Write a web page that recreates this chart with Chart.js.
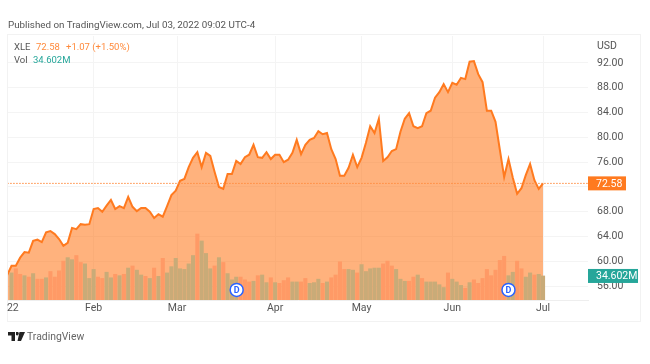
<!DOCTYPE html>
<html>
<head>
<meta charset="utf-8">
<style>
  html, body { margin: 0; padding: 0; background: #fff; }
  body { width: 650px; height: 364px; position: relative; overflow: hidden; font-family: Roboto, sans-serif; }
  #myChart { position: absolute; left: 0; top: 0; }
  .txt { position: absolute; white-space: nowrap; font-size: 9.5px; line-height: 12px; color: #555; }
  #frame { position: absolute; left: 7px; top: 34px; width: 634px; height: 288px; border: 1.5px solid #f2f2f2; box-sizing: border-box; }
</style>
</head>
<body>
<div id="frame"></div>
<canvas id="myChart" width="650" height="364"></canvas>
<div class="txt" style="left:8px;top:19px;font-size:9.8px">Published on TradingView.com, Jul 03, 2022 09:02 UTC-4</div>
<div class="txt" style="left:14px;top:41px">XLE</div>
<div class="txt" style="left:36px;top:41px;color:#ff8a3c">72.58</div>
<div class="txt" style="left:66px;top:41px;color:#ff8a3c">+1.07 (+1.50%)</div>
<div class="txt" style="left:14px;top:54px">Vol</div>
<div class="txt" style="left:33px;top:54px;color:#26a69a">34.602M</div>
<div class="txt" style="left:597px;top:40px;font-size:10.5px">USD</div>
<svg style="position:absolute;left:8px;top:332px" width="17" height="10" viewBox="0 0 17 10">
  <path d="M0 0H7V9H3.5V3.5H0Z M8 0H10A1.5 1.5 0 1 1 8 3Z M11.5 0H17L13 9H9.5Z" fill="#222"/>
</svg>
<div class="txt" style="left:27px;top:330px;font-size:10.4px;line-height:14px;color:#666">TradingView</div>

<script src="https://cdn.jsdelivr.net/npm/chart.js@4"></script>
<script>
// Daily closes, first point is cut by the left edge
const closes = [
  57.8, 59.3, 59.3, 60.6, 61.5, 61.4, 63.3, 63.5, 63.1, 64.7,
  64.9, 64.4, 63.6, 62.5, 63.0, 65.4, 65.2, 66.0, 65.9, 66.0,
  68.45, 68.6, 68.0, 69.0, 69.9, 68.45, 68.9, 68.6, 70.4, 68.8,
  68.1, 68.6, 68.6, 68.0, 67.0, 67.6, 67.2, 68.9, 70.7, 71.4,
  73.0, 73.3, 75.2, 76.7, 77.6, 75.2, 77.5, 77.0, 74.4, 72.0,
  71.7, 74.1, 74.1, 76.2, 75.7, 76.8, 77.2, 78.8, 76.8, 76.7,
  77.6, 76.5, 77.2, 77.2, 76.0, 76.4, 77.5, 79.6, 77.3, 78.8,
  79.6, 79.9, 81.0, 80.5, 80.7, 78.1, 76.5, 73.8, 73.8, 75.1,
  77.2, 75.2, 76.7, 79.1, 81.8, 80.7, 83.0, 76.2, 76.8, 77.8,
  78.1, 80.9, 83.0, 83.9, 81.8, 81.5, 81.8, 83.9, 84.3, 86.4,
  87.3, 88.6, 87.3, 88.8, 88.5, 89.6, 89.4, 92.2, 92.3, 90.2,
  88.9, 84.3, 84.3, 82.5, 78.0, 73.6, 76.5, 73.5, 70.9, 71.8,
  73.9, 75.7, 73.1, 71.7, 72.58
];

// Volume in millions, same index as closes
const volumes = [
  null, 39, 45, 37, 35, 33, 38, 30, 30, 32,
  41, 33, 42, 56, 61, 58, 64, 54, 52, 31,
  44, 33, 31, 40, 32, 37, 35, 37, 46, 49,
  43, 36, 34, 31, 46, 34, 60, 39, 48, 60,
  45, 44, 52, 64, 95, 85, 67, 45, 49, 61,
  54, 38, 29, 33, 33, 29, 26, 27, 35, 36,
  25, 32, 25, 24, 28, 32, 26, 26, 26, 31,
  24, 25, 30, 24, 26, 32, 36, 55, 44, 44,
  43, 39, 51, 41, 45, 46, 46, 52, 56, 49,
  44, 30, 27, 27, 33, 36, 31, 26, 26, 26,
  22, 18, 39, 30, 26, 21, 17, 25, 29, 24,
  31, 44, 35, 43, 57, 63, 35, 40, 56, 45,
  33, 39, 36, 37, 34.602
];

// 1 = tan (up) bar, 0 = orange (down) bar
const volumeUp = [
  0, 1, 0, 0, 1, 0, 1, 0, 0, 1,
  0, 0, 0, 0, 1, 1, 0, 0, 1, 1,
  1, 0, 0, 1, 1, 0, 1, 0, 1, 0,
  1, 1, 0, 1, 0, 1, 0, 1, 1, 1,
  1, 1, 1, 1, 0, 1, 1, 1, 0, 1,
  0, 1, 1, 1, 0, 0, 0, 1, 0, 1,
  1, 0, 1, 0, 0, 0, 1, 1, 0, 0,
  1, 1, 1, 0, 1, 0, 0, 0, 0, 1,
  1, 0, 1, 1, 1, 1, 1, 0, 0, 0,
  1, 1, 1, 0, 0, 1, 0, 1, 1, 1,
  1, 1, 0, 1, 1, 1, 0, 1, 0, 0,
  0, 0, 0, 0, 0, 0, 1, 1, 0, 0,
  1, 1, 0, 1, 1
];

const priceTicks = [56, 60, 64, 68, 72, 76, 80, 84, 88, 92];
const monthTicks = [1.3, 20, 39.3, 62, 82, 103, 124];
const monthLabels = ['22', 'Feb', 'Mar', 'Apr', 'May', 'Jun', 'Jul'];
const dividendDays = [53.1, 116];
const lastPrice = 72.58;
const lastVolume = 34.602;

const orange = '#ff7a1f';
const teal = '#26a69a';

// Price and volume tags on the axis, and the D letters
const tagsPlugin = {
  id: 'tags',
  afterDatasetsDraw(chart) {
    const { ctx, scales } = chart;
    const drawTag = (y, width, color, text) => {
      ctx.fillStyle = color;
      ctx.fillRect(588, y - 7, width, 14);
      ctx.fillStyle = '#fff';
      ctx.font = '10.5px Roboto';
      ctx.textAlign = 'left';
      ctx.textBaseline = 'middle';
      ctx.fillText(text, 596, y + 0.5);
    };
    ctx.save();
    drawTag(scales.y.getPixelForValue(lastPrice), 38, orange, lastPrice.toFixed(2));
    drawTag(scales.vol.getPixelForValue(lastVolume), 50, teal, lastVolume.toFixed(3) + 'M');
    ctx.fillStyle = '#2962ff';
    ctx.font = 'bold 9px Roboto';
    ctx.textAlign = 'center';
    ctx.textBaseline = 'middle';
    dividendDays.forEach(d => {
      ctx.fillText('D', scales.x.getPixelForValue(d), scales.y.getPixelForValue(55.4) + 0.5);
    });
    ctx.restore();
  }
};

const ctx = document.getElementById('myChart').getContext('2d');

new Chart(ctx, {
  data: {
    datasets: [
      {
        type: 'line',
        data: dividendDays.map(d => ({ x: d, y: 55.4 })),
        showLine: false,
        pointRadius: 6.5,
        pointBackgroundColor: '#fff',
        pointBorderColor: '#2962ff',
        pointBorderWidth: 1.5,
        order: 0
      },
      {
        type: 'line',
        data: [{ x: 0, y: lastPrice }, { x: 134.4, y: lastPrice }],
        borderColor: '#ff8a3c',
        borderWidth: 1,
        borderDash: [1.5, 1.5],
        pointRadius: 0,
        order: 1
      },
      {
        type: 'bar',
        yAxisID: 'vol',
        data: volumes.map((v, i) => ({ x: i, y: v })),
        backgroundColor: volumeUp.map(u => u ? '#c9ab78' : '#ff9a66'),
        barThickness: 3.4,
        order: 2
      },
      {
        type: 'line',
        data: closes.map((c, i) => ({ x: i, y: c })),
        borderColor: orange,
        borderWidth: 2,
        backgroundColor: 'rgba(255,122,31,0.58)',
        fill: 'start',
        tension: 0,
        pointRadius: 0,
        order: 3
      }
    ]
  },
  plugins: [tagsPlugin],
  options: {
    responsive: false,
    animation: false,
    layout: { padding: { left: 8, top: 36, right: 12, bottom: 24 } },
    plugins: { legend: { display: false }, tooltip: { enabled: false } },
    scales: {
      x: {
        type: 'linear',
        offset: false,
        min: 0.185,
        max: 134.4,
        afterBuildTicks: axis => { axis.ticks = monthTicks.map(v => ({ value: v })); },
        afterFit: axis => { axis.height = 40; },
        ticks: {
          autoSkip: false,
          maxRotation: 0,
          padding: 2,
          color: '#555',
          font: { family: 'Roboto', size: 10.5 },
          callback: (v, i) => monthLabels[i]
        },
        grid: {
          offset: false,
          color: ctx => ctx.index === 0 ? 'rgba(0,0,0,0)' : '#f4f4f4',
          drawTicks: false
        },
        border: { color: '#eeeeee' }
      },
      y: {
        position: 'right',
        min: 53.77,
        max: 96.35,
        afterBuildTicks: axis => { axis.ticks = priceTicks.map(v => ({ value: v })); },
        afterFit: axis => { axis.width = 50; },
        ticks: {
          padding: 9,
          color: '#555',
          font: { family: 'Roboto', size: 10.5 },
          callback: v => v.toFixed(2)
        },
        grid: { color: '#f4f4f4', drawTicks: false },
        border: { display: false }
      },
      vol: {
        display: false,
        min: 0,
        max: 380
      }
    }
  }
});
</script>
</body>
</html>
